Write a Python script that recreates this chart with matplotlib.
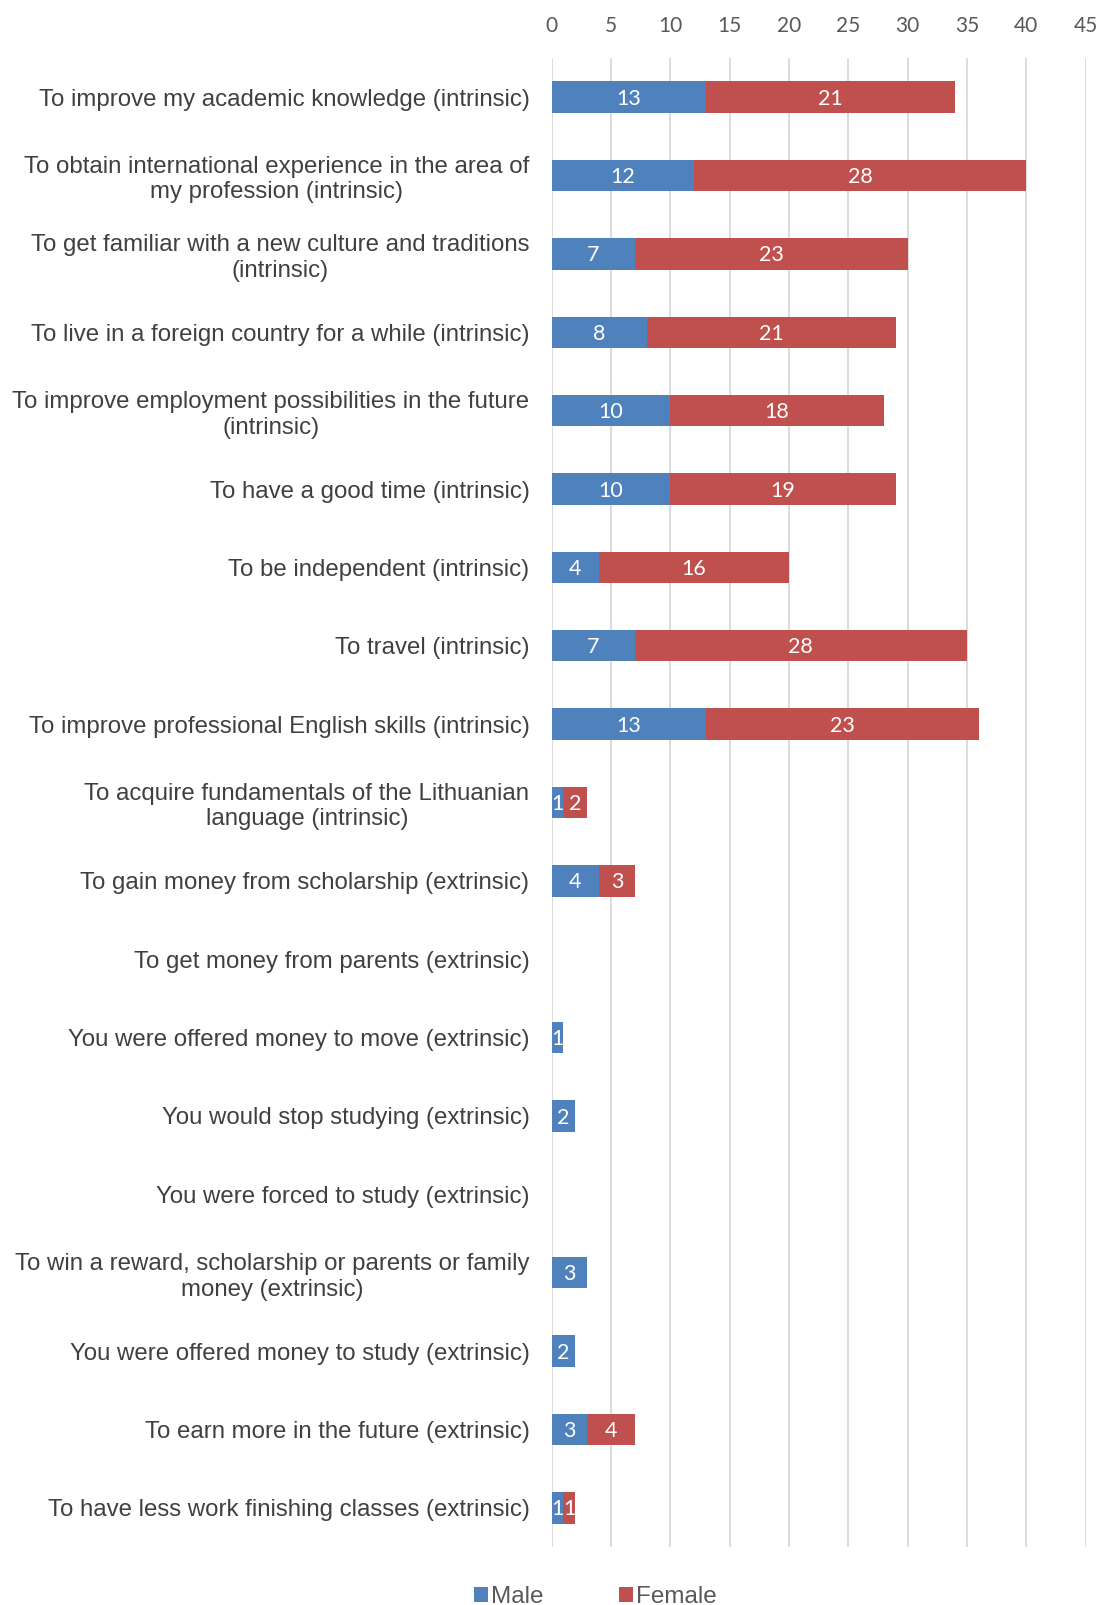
import matplotlib.pyplot as plt
import numpy as np

reasons = [
    "To improve my academic knowledge (intrinsic)",
    "To obtain international experience in the area of\nmy profession (intrinsic)",
    "To get familiar with a new culture and traditions\n(intrinsic)",
    "To live in a foreign country for a while (intrinsic)",
    "To improve employment possibilities in the future\n(intrinsic)",
    "To have a good time (intrinsic)",
    "To be independent (intrinsic)",
    "To travel (intrinsic)",
    "To improve professional English skills (intrinsic)",
    "To acquire fundamentals of the Lithuanian\nlanguage (intrinsic)",
    "To gain money from scholarship (extrinsic)",
    "To get money from parents (extrinsic)",
    "You were offered money to move (extrinsic)",
    "You would stop studying (extrinsic)",
    "You were forced to study (extrinsic)",
    "To win a reward, scholarship or parents or family\nmoney (extrinsic)",
    "You were offered money to study (extrinsic)",
    "To earn more in the future (extrinsic)",
    "To have less work finishing classes (extrinsic)",
]
male = [13, 12, 7, 8, 10, 10, 4, 7, 13, 1, 4, 0, 1, 2, 0, 3, 2, 3, 1]
female = [21, 28, 23, 21, 18, 19, 16, 28, 23, 2, 3, 0, 0, 0, 0, 0, 0, 4, 1]

BLUE = "#4F81BD"
RED = "#C0504D"
TEXT = "#595959"

fig = plt.figure(figsize=(11.01, 16.05), dpi=100)
ax = fig.add_axes([0.501, 0.0361, 0.485, 0.9278])

y = np.arange(len(reasons))
male = np.array(male)
female = np.array(female)
bh = 0.4
mb = ax.barh(y, male, height=bh, color=BLUE, label="Male")
fb = ax.barh(y, female, left=male, height=bh, color=RED, label="Female")

# value labels inside each segment, skipping empty ones
for bars, vals in ((mb, male), (fb, female)):
    for rect, v in zip(bars, vals):
        if v == 0:
            continue
        cx = rect.get_x() + rect.get_width() / 2
        ax.text(cx, rect.get_y() + rect.get_height() / 2 + 0.02, str(v),
                ha="center", va="center", color="white",
                fontsize=15.5, family="Lato")

ax.set_xlim(0, 45)
ax.set_ylim(len(reasons) - 0.5, -0.5)
ax.set_xticks(range(0, 46, 5))
ax.xaxis.tick_top()
ax.tick_params(axis="x", length=0, pad=16, labelsize=15, labelcolor=TEXT)
for lbl in ax.get_xticklabels():
    lbl.set_family("Lato")
ax.grid(axis="x", color="#D9D9D9", linewidth=1.3)
ax.set_axisbelow(True)
for s in ax.spines.values():
    s.set_visible(False)

ax.set_yticks(y)
ax.set_yticklabels(reasons)
ax.tick_params(axis="y", length=0, pad=16)
for lbl in ax.get_yticklabels():
    lbl.set_fontfamily("Liberation Sans")
    lbl.set_fontsize(17.3)
    lbl.set_color("#404040")
    lbl.set_multialignment("center")

fig.legend(handles=[mb, fb], labels=["Male", "Female"], loc="center",
           bbox_to_anchor=(0.541, 0.005), ncol=2, frameon=False,
           prop={"family": "Liberation Sans", "size": 17.5}, labelcolor=TEXT,
           handlelength=0.55, handleheight=0.55, handletextpad=0.15,
           columnspacing=3.1)

fig.savefig("out.png", dpi=100)
